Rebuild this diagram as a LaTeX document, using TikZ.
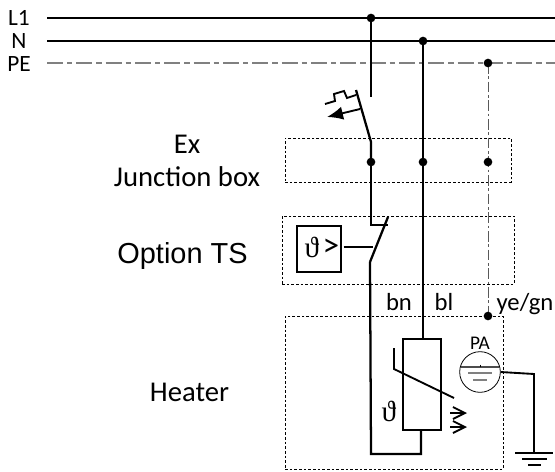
\documentclass[tikz,border=0pt]{standalone}
\usepackage{fontspec}
\setmainfont{Carlito}
\newfontfamily\arialf{Liberation Sans}
\newfontfamily\symf{Liberation Serif}
\usetikzlibrary{arrows.meta}
\definecolor{pegray}{gray}{0.5}
\tikzset{
  wire/.style={line width=1.7pt,black},
  thinw/.style={line width=1.4pt,black},
  pewire/.style={line width=0.8pt,pegray,dash pattern=on 12pt off 3pt on 4pt off 3pt},
  boxd/.style={draw,line width=0.5pt,dash pattern=on 2pt off 1.5pt},
  jdot/.style={circle,fill=black,inner sep=0pt,minimum size=6.5pt},
  lab/.style={font=\fontsize{18.5pt}{20pt}\selectfont,inner sep=0pt},
  labs/.style={font=\fontsize{17.5pt}{20pt}\selectfont,inner sep=0pt},
  lab2/.style={font=\fontsize{21.5pt}{24pt}\selectfont,inner sep=0pt},
  openarr/.style={thinw,-{Straight Barb[length=9pt,width=9pt,line width=1.4pt]}},
}
\begin{document}
\begin{tikzpicture}[x=0.75pt,y=-0.75pt]
\useasboundingbox (0,0) rectangle (555,471);
% bus ends
\coordinate (L1a) at (47,18); \coordinate (L1b) at (555,18);
\coordinate (Na) at (47,41); \coordinate (Nb) at (555,41);
\coordinate (PEa) at (47,63); \coordinate (PEb) at (555,63);
% labels
\node[labs] (tL1) at (19,18) {L1};
\node[labs] (tN) at (19,41) {N};
\node[labs] (tPE) at (19,64) {PE};
\node[lab2] (tEx) at (187,144) {Ex};
\node[lab2] (tJB) at (187,177) {Junction box};
\node[inner sep=0pt,font=\arialf\fontsize{21.7pt}{24pt}\selectfont] (tTS) at (182.5,256) {Option TS};
\node[lab2] (tH) at (189.5,392) {Heater};
\node[lab] (tbn) at (399,302) {bn};
\node[lab] (tbl) at (444,302) {bl};
\node[lab] (tyg) at (525,304) {ye/gn};
% dashed boxes
\node[boxd,minimum width=169.5pt,minimum height=33pt,inner sep=0pt] (exbox) at (398,160) {};
\node[boxd,minimum width=174pt,minimum height=51pt,inner sep=0pt] (tsbox) at (398,250) {};
\node[boxd,minimum width=163.5pt,minimum height=114.5pt,inner sep=0pt] (hbox) at (394,392.5) {};
% junction positions
\coordinate (p1) at (371,18);
\coordinate (p2) at (423,41);
\coordinate (p3) at (488,63);
\coordinate (p4) at (371,162);
\coordinate (p5) at (423,162);
\coordinate (p6) at (488,162);
\coordinate (p7) at (488,316);
% buses
\draw[wire] (L1a) -- (L1b);
\draw[wire] (Na) -- (Nb);
\draw[pewire] (PEa) -- (PEb);
% PE drop
\draw[line width=0.7pt,pegray!70!black,dash pattern=on 8pt off 2pt on 2pt off 2pt] (p3) -- (p6) -- (p7);
% L1 branch + manual switch
\coordinate (s1a) at (371,97);
\coordinate (s1b) at (371,142);
\coordinate (s1t) at (356,90);
\draw[wire] (p1) -- (s1a);
\draw[wire] (s1t) -- (s1b) -- (p4);
\draw[thinw] (356,95) -- (347,98) -- (344,91) -- (334,94) -- (335,101) -- (325,104);
\draw[thinw,-{Latex[length=12pt,width=10pt]}] (360,109) -- (327,117);
% TS contact
\coordinate (c1) at (371,225); \coordinate (c2) at (388,225);
\coordinate (c3) at (370,262); \coordinate (c4) at (388,217);
\draw[wire] (p4) -- (c1) -- (c2);
\draw[wire] (c3) -- (c4);
\node[draw,line width=1.5pt,minimum width=33pt,minimum height=34pt,inner sep=0pt] (tsr) at (318.5,249) {};
\node[inner sep=0pt,font=\fontsize{22pt}{25pt}\selectfont\symf] (tsth) at (312,247) {ϑ};
\node[inner sep=0pt,font=\fontsize{25pt}{29pt}\selectfont] (tsgt) at (331,248) {>};
\coordinate (c5) at (373,247);
\draw[thinw] (tsr.east |- c5) ++(1.5pt,0) -- (c5);
% L1 down to heater
\coordinate (h1) at (371,454); \coordinate (h2) at (421,454);
\node[draw,line width=1.5pt,minimum width=28.5pt,minimum height=68pt,inner sep=0pt] (res) at (422,384.5) {};
\draw[wire] (c3) -- (h1) -- (h2) -- (h2 |- res.south);
% N
\draw[wire] (p2) -- (p5) -- (res.north -| p5);
% thermistor
\draw[thinw] (394,348) -- (394,369) -- (454,398);
\node[inner sep=0pt,font=\fontsize{22pt}{25pt}\selectfont\symf] (th) at (389,411) {ϑ};
\coordinate (a1) at (450,413); \coordinate (a2) at (467,413);
\coordinate (a3) at (450,427); \coordinate (a4) at (467,427);
\draw[openarr] (a1) -- (a2);
\draw[openarr] (a3) -- (a4);
% PA
\node[draw,circle,line width=0.6pt,minimum size=30.5pt,inner sep=0pt] (pa) at (480,372) {};
\node[inner sep=0pt,font=\fontsize{14.5pt}{16pt}\selectfont] (tPA) at (480,343) {PA};
\draw[line width=0.8pt,black!70] (461,367) -- (499,367);
\draw[line width=0.8pt,black!50] (468,373) -- (492,373);
\draw[line width=0.8pt,black!50] (473,380) -- (487,380);
\draw[line width=0.4pt] (480,364.5) -- (480,367);
% ground
\coordinate (g1) at (534,374); \coordinate (g2) at (534,453);
\draw[line width=1.4pt] (pa.east) -- (g1) -- (g2);
\draw[line width=1.4pt] (515,453) -- (553,453);
\draw[line width=1.4pt] (522,459) -- (547,459);
\draw[line width=1.4pt] (528,465) -- (541,465);
% junctions
\node[jdot] (d1) at (p1) {};
\node[jdot] (d2) at (p2) {};
\node[jdot] (d3) at (p3) {};
\node[jdot] (d4) at (p4) {};
\node[jdot] (d5) at (p5) {};
\node[jdot] (d6) at (p6) {};
\node[jdot] (d7) at (p7) {};
\end{tikzpicture}
\end{document}
